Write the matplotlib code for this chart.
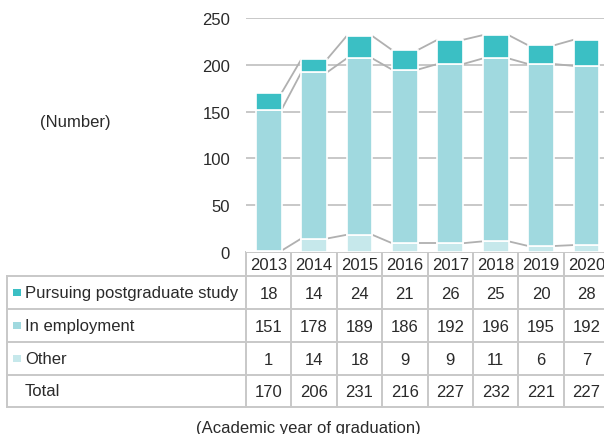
import numpy as np
import matplotlib
matplotlib.use("Agg")
import matplotlib.pyplot as plt
from matplotlib import transforms

plt.rcParams['font.family'] = ['Liberation Sans', 'DejaVu Sans']

# data
years = ['2013', '2014', '2015', '2016', '2017', '2018', '2019', '2020']
postgrad = [18, 14, 24, 21, 26, 25, 20, 28]
employment = [151, 178, 189, 186, 192, 196, 195, 192]
other = [1, 14, 18, 9, 9, 11, 6, 7]
totals = [170, 206, 231, 216, 227, 232, 221, 227]
row_labels = ['Pursuing postgraduate study', 'In employment', 'Other', 'Total']

c_post = '#3bbfc4'
c_emp = '#a0d9df'
c_oth = '#c6e8eb'
grid_c = '#c8c8c8'
line_c = '#b0b0b0'
txt_c = '#2a2a2a'
fs = 12

W, H = 604, 435
fig = plt.figure(figsize=(W / 100, H / 100), dpi=100)

# overlay axes in pixel coords (for table rows / labels)
ov = fig.add_axes([0, 0, 1, 1])
ov.set_xlim(0, W)
ov.set_ylim(H, 0)
ov.axis('off')

# chart axes: columns 45.4px wide starting at x=246
col_w = 45.4
x0 = 246
y_zero, y_top = 252.6, 19.3
ax = fig.add_axes([x0 / W, 1 - y_zero / H, 8 * col_w / W, (y_zero - y_top) / H])
ax.set_xlim(-0.5, 7.5)
ax.set_ylim(0, 250)
for s in ax.spines.values():
    s.set_visible(False)
ax.set_xticks([])
ax.set_yticks([0, 50, 100, 150, 200, 250])
ax.tick_params(axis='y', length=0, pad=11.5, labelsize=fs, labelcolor=txt_c)
for v in [50, 100, 150, 200, 250]:
    ax.axhline(v, color=grid_c, lw=1.4, zorder=0)

x = np.arange(len(years))
bw = 0.565
oth = np.array(other)
emp = np.array(employment)
post = np.array(postgrad)
ax.bar(x, oth, bw, color=c_oth, edgecolor='white', lw=1.2, zorder=2)
ax.bar(x, emp, bw, bottom=oth, color=c_emp, edgecolor='white', lw=1.2, zorder=2)
ax.bar(x, post, bw, bottom=oth + emp, color=c_post, edgecolor='white', lw=1.2, zorder=2)

# connector lines between bars
for lev in [oth, oth + emp, oth + emp + post]:
    for i in range(len(years) - 1):
        ax.plot([x[i] + bw / 2, x[i + 1] - bw / 2], [lev[i], lev[i + 1]],
                color=line_c, lw=1.3, zorder=1, solid_capstyle='butt')

ax.text(-0.5, 0, '', transform=ax.transData)
ov.text(75, 123, '(Number)', ha='center', va='center', fontsize=fs, color=txt_c)

# table: x in chart data units, y in pixels
bt = transforms.blended_transform_factory(ax.transData, ov.transData)
tbl_c = '#c8c8c8'
tlw = 1.4

# year header row
hy0, hy1 = 253, 277
for i, yr in enumerate(years):
    ov.plot([i - 0.5, i + 0.5, i + 0.5, i - 0.5, i - 0.5], [hy0, hy0, hy1, hy1, hy0],
            color=tbl_c, lw=tlw, transform=bt, clip_on=False)
    ov.text(i, (hy0 + hy1) / 2 + 1, yr, ha='center', va='center', fontsize=fs,
            color=txt_c, transform=bt)

# body rows
row_y = [277, 310, 343, 375.5, 408]
tx0 = 7
ov.plot([tx0, tx0], [row_y[0], row_y[-1]], color=tbl_c, lw=tlw, clip_on=False)
for ry in row_y:
    ov.plot([tx0, W + 10], [ry, ry], color=tbl_c, lw=tlw, clip_on=False)
for i in range(len(years) + 1):
    ov.plot([i - 0.5, i - 0.5], [row_y[0], row_y[-1]], color=tbl_c, lw=tlw,
            transform=bt, clip_on=False)

rows = [postgrad, employment, other, totals]
sq_cols = [c_post, c_emp, c_oth, None]
for r, (lab, vals, sc) in enumerate(zip(row_labels, rows, sq_cols)):
    yc = (row_y[r] + row_y[r + 1]) / 2
    if sc is not None:
        ov.add_patch(plt.Rectangle((13.3, yc - 3.6), 7.4, 7.4, color=sc, lw=0))
    ov.text(25, yc, lab, ha='left', va='center', fontsize=fs, color=txt_c)
    for i, v in enumerate(vals):
        ov.text(i, yc + 1, str(v), ha='center', va='center', fontsize=fs,
                color=txt_c, transform=bt)

ov.text(308, 433.5, '(Academic year of graduation)', ha='center', va='baseline',
        fontsize=fs, color=txt_c)

fig.savefig('out.png', dpi=100)
